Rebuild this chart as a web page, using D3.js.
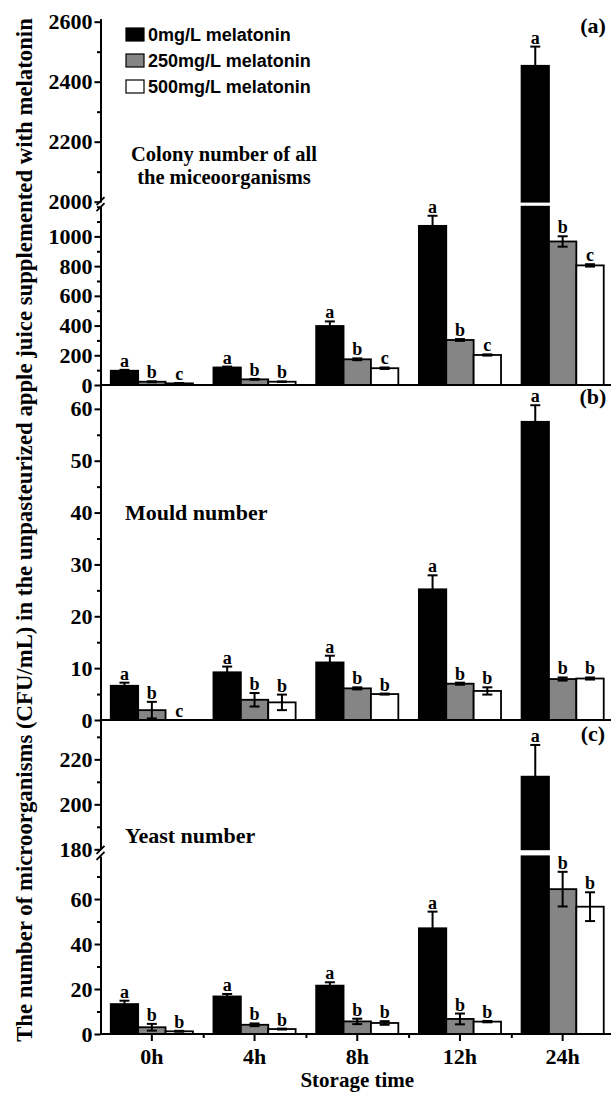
<!DOCTYPE html>
<html lang="en">
<head>
<meta charset="utf-8">
<title>Microorganisms in apple juice with melatonin</title>
<style>
  body { margin: 0; background: #fff; }
  svg { display: block; }
  .axis path, .axis line { stroke: #000; stroke-width: 2px; }
  .axis text { font-family: "Liberation Serif", "Times New Roman", serif; font-weight: bold; font-size: 22px; fill: #000; }
  .serif { font-family: "Liberation Serif", "Times New Roman", serif; font-weight: bold; fill: #000; }
  .sans { font-family: "Liberation Sans", Arial, sans-serif; font-weight: bold; fill: #000; }
</style>
</head>
<body>
<script src="https://d3js.org/d3.v7.min.js"></script>
<script>
// categories and series
var times = ["0h", "4h", "8h", "12h", "24h"];
var treatments = ["0mg/L melatonin", "250mg/L melatonin", "500mg/L melatonin"];
var fills = ["#000000", "#858585", "#ffffff"];

// (a) colony number of all microorganisms, one row per storage time
var colonyMean = [[96, 22, 11], [118, 38, 22], [397, 173, 113], [1071, 303, 202], [2453, 966, 805]];
var colonyErr  = [[6, 3, 2], [6, 3, 2], [31, 6, 5], [68, 6, 4], [64, 35, 8]];
var colonyLetters = [["a","b","c"], ["a","b","b"], ["a","b","c"], ["a","b","c"], ["a","b","c"]];

// (b) mould number
var mouldMean = [[6.6, 1.9, 0], [9.2, 3.9, 3.4], [11.1, 6.1, 5.0], [25.2, 7.0, 5.6], [57.5, 7.9, 8.0]];
var mouldErr  = [[0.6, 1.6, 0], [1.1, 1.3, 1.5], [1.3, 0.2, 0.1], [2.7, 0.2, 0.7], [3.2, 0.3, 0.2]];
var mouldLetters = [["a","b","c"], ["a","b","b"], ["a","b","b"], ["a","b","b"], ["a","b","b"]];

// (c) yeast number
var yeastMean = [[13.3, 3.0, 1.2], [16.7, 4.1, 2.2], [21.5, 5.6, 4.9], [47.0, 6.7, 5.5], [212.3, 64.4, 56.6]];
var yeastErr  = [[1.5, 1.5, 0.2], [1.1, 0.6, 0.2], [1.5, 1.2, 0.8], [7.4, 2.4, 0.3], [14.1, 7.7, 6.4]];
var yeastLetters = [["a","b","b"], ["a","b","b"], ["a","b","b"], ["a","b","b"], ["a","b","b"]];

// tick values for each axis segment
var colonyLowTicks = [0, 200, 400, 600, 800, 1000];
var colonyHighTicks = [2000, 2200, 2400, 2600];
var mouldTicks = [0, 10, 20, 30, 40, 50, 60];
var yeastLowTicks = [0, 20, 40, 60];
var yeastHighTicks = [180, 200, 220];

var W = 611, H = 1093;
var axisX = 100.5;

var svg = d3.select("body").append("svg")
    .attr("width", W)
    .attr("height", H);

// storage time band scale, runs off the right edge like the original
var x0 = d3.scaleBand().domain(times).range([axisX, axisX + 5 * 102.7]);
var x1 = d3.scaleBand().domain(d3.range(3))
    .range([x0.bandwidth() * 0.1, x0.bandwidth() * 0.9]);
var xBound = d3.scaleLinear().domain([0, 5]).range(x0.range());

// each panel: one or two linear segments (broken axis)
var panels = [
  {
    mean: colonyMean, err: colonyErr, letters: colonyLetters, tag: "(a)",
    bottom: 385,
    segs: [
      {scale: d3.scaleLinear().domain([0, 1200]).range([385, 206.7]), ticks: colonyLowTicks, step: 100},
      {scale: d3.scaleLinear().domain([2000, 2610]).range([201.7, 18.7]), ticks: colonyHighTicks, step: 100}
    ],
    title: ["Colony number of all", "the miceoorganisms"], titleY: 161, tagY: 33
  },
  {
    mean: mouldMean, err: mouldErr, letters: mouldLetters, tag: "(b)",
    bottom: 720,
    segs: [
      {scale: d3.scaleLinear().domain([0, 64.6]).range([720, 385]), ticks: mouldTicks, step: 5}
    ],
    title: ["Mould number"], titleY: 520, tagY: 404
  },
  {
    mean: yeastMean, err: yeastErr, letters: yeastLetters, tag: "(c)",
    bottom: 1034,
    segs: [
      {scale: d3.scaleLinear().domain([0, 79]).range([1034, 856.3]), ticks: yeastLowTicks, step: 10},
      {scale: d3.scaleLinear().domain([180, 237.5]).range([849.3, 720]), ticks: yeastHighTicks, step: 10}
    ],
    title: ["Yeast number"], titleY: 843, tagY: 741
  }
];

function yOf(p, v) {
  if (p.segs.length > 1 && v >= p.segs[1].scale.domain()[0]) return p.segs[1].scale(v);
  return p.segs[0].scale(v);
}

panels.forEach(function(p) {
  var g = svg.append("g");

  // bars (the tallest bars are split across the axis break)
  p.mean.forEach(function(row, i) {
    row.forEach(function(v, j) {
      if (v <= 0) return;
      var bx = x0(times[i]) + x1(j), bw = x1.bandwidth();
      var lo = p.segs[0], loTop = lo.scale.domain()[1];
      var pieces = [];
      if (p.segs.length > 1 && v > loTop) {
        var hi = p.segs[1];
        pieces.push([lo.scale(loTop), lo.scale(0)]);
        pieces.push([hi.scale(v), hi.scale(hi.scale.domain()[0])]);
      } else {
        pieces.push([lo.scale(v), lo.scale(0)]);
      }
      pieces.forEach(function(pc) {
        g.append("rect")
          .attr("x", bx).attr("width", bw)
          .attr("y", pc[0]).attr("height", pc[1] - pc[0])
          .attr("fill", fills[j]).attr("stroke", "#000").attr("stroke-width", 1.8);
      });
    });
  });

  // error bars
  p.mean.forEach(function(row, i) {
    row.forEach(function(v, j) {
      var e = p.err[i][j];
      if (v <= 0 || e <= 0) return;
      var cx = x0(times[i]) + x1(j) + x1.bandwidth() / 2;
      var yt = yOf(p, v + e), yb = yOf(p, v - e);
      g.append("line").attr("x1", cx).attr("x2", cx).attr("y1", yt).attr("y2", yb)
        .attr("stroke", "#000").attr("stroke-width", 2);
      [yt, yb].forEach(function(yy) {
        g.append("line").attr("x1", cx - 5).attr("x2", cx + 5).attr("y1", yy).attr("y2", yy)
          .attr("stroke", "#000").attr("stroke-width", 2);
      });
    });
  });

  // significance letters
  p.mean.forEach(function(row, i) {
    row.forEach(function(v, j) {
      var cx = x0(times[i]) + x1(j) + x1.bandwidth() / 2;
      g.append("text").attr("class", "serif")
        .attr("x", cx).attr("y", yOf(p, v + p.err[i][j]) - 3)
        .attr("text-anchor", "middle").style("font-size", "18px")
        .text(p.letters[i][j]);
    });
  });

  // y axis segments with minor ticks
  p.segs.forEach(function(s) {
    var d = s.scale.domain();
    var minor = d3.range(d[0], d[1] + 1e-9, s.step)
      .filter(function(t) { return s.ticks.indexOf(t) < 0; });
    g.append("g").attr("class", "axis")
      .attr("transform", "translate(" + axisX + ",0)")
      .call(d3.axisLeft(s.scale).tickValues(minor).tickSize(3.5).tickSizeOuter(0).tickFormat(""));
    g.append("g").attr("class", "axis")
      .attr("transform", "translate(" + axisX + ",0)")
      .call(d3.axisLeft(s.scale).tickValues(s.ticks).tickSize(6).tickPadding(2)
        .tickSizeOuter(0).tickFormat(d3.format("d")));
  });

  // axis break marks
  if (p.segs.length > 1) {
    var yb = (p.segs[0].scale.range()[1] + p.segs[1].scale.range()[0]) / 2;
    [-3, 3].forEach(function(o) {
      g.append("line")
        .attr("x1", axisX - 4).attr("y1", yb + o + 4)
        .attr("x2", axisX + 4).attr("y2", yb + o - 4)
        .attr("stroke", "#000").attr("stroke-width", 1.8);
    });
  }

  // bottom line of each panel
  g.append("line").attr("x1", axisX).attr("x2", W).attr("y1", p.bottom).attr("y2", p.bottom)
    .attr("stroke", "#000").attr("stroke-width", 2);

  // panel tag and title
  g.append("text").attr("class", "serif")
    .attr("x", 593).attr("y", p.tagY).attr("text-anchor", "middle")
    .style("font-size", "22px").text(p.tag);

  p.title.forEach(function(t, k) {
    g.append("text").attr("class", "serif")
      .attr("x", p.title.length > 1 ? 224 : 125)
      .attr("y", p.titleY + k * 23)
      .attr("text-anchor", p.title.length > 1 ? "middle" : "start")
      .style("font-size", p.title.length > 1 ? "20.5px" : "22px").text(t);
  });
});

// x axis at the bottom panel
var xAxisY = panels[2].bottom;
svg.append("g").attr("class", "axis")
  .attr("transform", "translate(0," + xAxisY + ")")
  .call(d3.axisBottom(xBound).tickValues([1, 2, 3, 4]).tickSize(4).tickSizeOuter(0).tickFormat(""))
  .select(".domain").remove();
svg.append("g").attr("class", "axis")
  .attr("transform", "translate(0," + xAxisY + ")")
  .call(d3.axisBottom(x0).tickSize(7).tickPadding(7).tickSizeOuter(0))
  .select(".domain").remove();

svg.append("text").attr("class", "serif")
  .attr("x", xBound(2.5)).attr("y", 1087)
  .attr("text-anchor", "middle").style("font-size", "21px")
  .text("Storage time");

// y axis title, fitted to the full height
var yTitle = svg.append("text").attr("class", "serif")
  .attr("transform", "translate(32,530) rotate(-90)")
  .attr("text-anchor", "middle").style("font-size", "22px")
  .text("The number of microorganisms (CFU/mL) in the unpasteurized apple juice supplemented with melatonin");
var len = yTitle.node().getComputedTextLength();
yTitle.style("font-size", (22 * 1024 / len).toFixed(2) + "px");

// legend
var legend = svg.append("g");
treatments.forEach(function(t, j) {
  var ly = 35 + j * 26;
  legend.append("rect")
    .attr("x", 126).attr("y", ly - 7).attr("width", 18).attr("height", 13)
    .attr("fill", fills[j]).attr("stroke", "#000").attr("stroke-width", 1.2);
  legend.append("text").attr("class", "sans")
    .attr("x", 148).attr("y", ly + 6)
    .style("font-size", "18px").text(t);
});
</script>
</body>
</html>
